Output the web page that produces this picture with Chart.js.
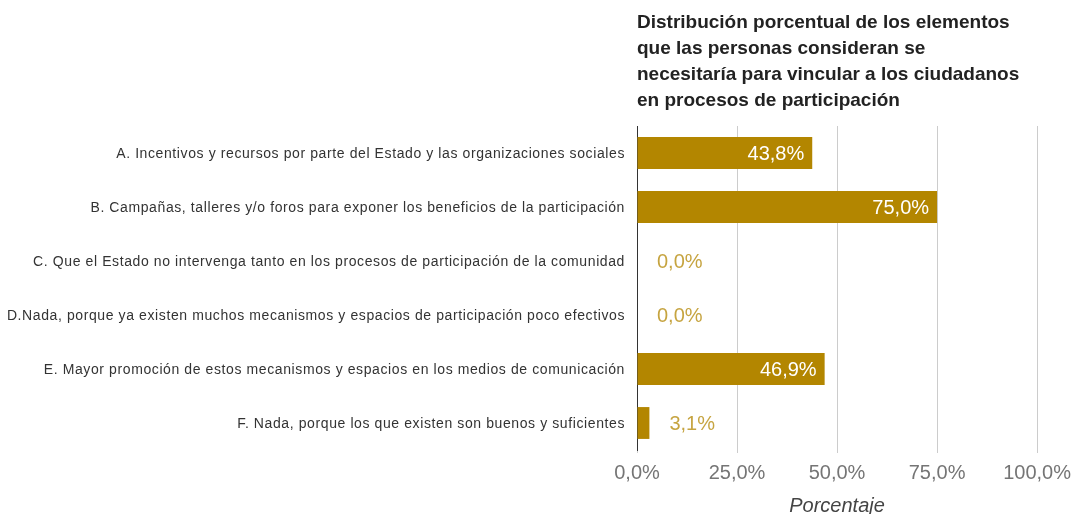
<!DOCTYPE html>
<html><head><meta charset="utf-8">
<script src="https://cdn.jsdelivr.net/npm/chart.js@4/dist/chart.umd.min.js"></script>
<style>
html,body{margin:0;padding:0;background:#fff;overflow:hidden;}
#wrap{position:relative;width:1079px;height:518px;}
</style></head><body>
<div id="wrap"><canvas id="c"></canvas></div>
<script>
const categories = [
  "A. Incentivos y recursos por parte del Estado y las organizaciones sociales",
  "B. Campañas, talleres y/o foros para exponer los beneficios de la participación",
  "C. Que el Estado no intervenga tanto en los procesos de participación de la comunidad",
  "D.Nada, porque ya existen muchos mecanismos y espacios de participación poco efectivos",
  "E. Mayor promoción de estos mecanismos y espacios en los medios de comunicación",
  "F. Nada, porque los que existen son buenos y suficientes"
];
const porcentaje = [43.8, 75.0, 0.0, 0.0, 46.9, 3.1];
const xTicks = [0, 25, 50, 75, 100];
const titleLines = [
  "Distribución porcentual de los elementos",
  "que las personas consideran se",
  "necesitaría para vincular a los ciudadanos",
  "en procesos de participación"
];
const axisTitle = "Porcentaje";

const fmt = v => v.toFixed(1).replace('.', ',') + '%';
const BAR = '#B38600';

const titlePlugin = {
  id: 'leftTitle',
  afterDraw(chart) {
    const ctx = chart.ctx, a = chart.chartArea;
    ctx.save();
    ctx.font = 'bold 19px "Liberation Sans", Arial, sans-serif';
    ctx.fillStyle = '#222';
    ctx.textAlign = 'left';
    ctx.textBaseline = 'alphabetic';
    titleLines.forEach((t, i) => ctx.fillText(t, a.left, 28 + i * 26));
    ctx.restore();
  }
};

const catLabelPlugin = {
  id: 'catLabels',
  afterDraw(chart) {
    const ctx = chart.ctx, a = chart.chartArea, ys = chart.scales.y;
    ctx.save();
    ctx.font = '14px "Liberation Sans", Arial, sans-serif';
    try { ctx.letterSpacing = '0.6px'; } catch (e) {}
    ctx.fillStyle = '#333';
    ctx.textAlign = 'right';
    ctx.textBaseline = 'middle';
    categories.forEach((t, i) => ctx.fillText(t, a.left - 12, ys.getPixelForValue(i) + 1));
    ctx.restore();
  }
};

const valueLabelPlugin = {
  id: 'valueLabels',
  afterDatasetsDraw(chart) {
    const ctx = chart.ctx, meta = chart.getDatasetMeta(0);
    ctx.save();
    ctx.font = '20px "Liberation Sans", Arial, sans-serif';
    ctx.textBaseline = 'middle';
    meta.data.forEach((bar, i) => {
      const txt = fmt(porcentaje[i]);
      const w = ctx.measureText(txt).width;
      const barW = bar.x - bar.base;
      if (barW > w + 16) {
        ctx.fillStyle = '#ffffff';
        ctx.textAlign = 'right';
        ctx.fillText(txt, bar.x - 8, bar.y + 1);
      } else {
        ctx.fillStyle = 'rgba(179,134,0,0.75)';
        ctx.textAlign = 'left';
        ctx.fillText(txt, bar.x + 20, bar.y + 1);
      }
    });
    ctx.restore();
  }
};

new Chart(document.getElementById('c'), {
  type: 'bar',
  data: {
    labels: categories,
    datasets: [{
      data: porcentaje,
      backgroundColor: BAR,
      borderWidth: 0,
      barPercentage: 0.59,
      categoryPercentage: 1.0
    }]
  },
  options: {
    indexAxis: 'y',
    responsive: true,
    maintainAspectRatio: false,
    animation: false,
    layout: { padding: { top: 126, right: 0, bottom: 0, left: 0 } },
    plugins: { legend: { display: false }, tooltip: { enabled: false }, title: { display: false } },
    scales: {
      x: {
        min: 0, max: 100,
        afterBuildTicks: s => { s.ticks = xTicks.map(v => ({ value: v })); },
        grid: { color: '#cccccc', lineWidth: 1, tickLength: 3, drawTicks: true },
        border: { display: false },
        ticks: {
          font: { family: '"Liberation Sans", Arial, sans-serif', size: 20 },
          color: '#757575',
          padding: 8,
          maxRotation: 0,
          callback: v => fmt(v)
        },
        title: {
          display: true, text: axisTitle,
          font: { family: '"Liberation Sans", Arial, sans-serif', size: 20, style: 'italic' },
          color: '#444',
          padding: { top: 1, bottom: 0 }
        }
      },
      y: {
        grid: { display: false },
        border: { display: true, color: '#333', width: 1 },
        ticks: { display: false },
        afterFit: s => { s.width = 637; }
      }
    }
  },
  plugins: [titlePlugin, catLabelPlugin, valueLabelPlugin]
});
</script>
</body></html>
